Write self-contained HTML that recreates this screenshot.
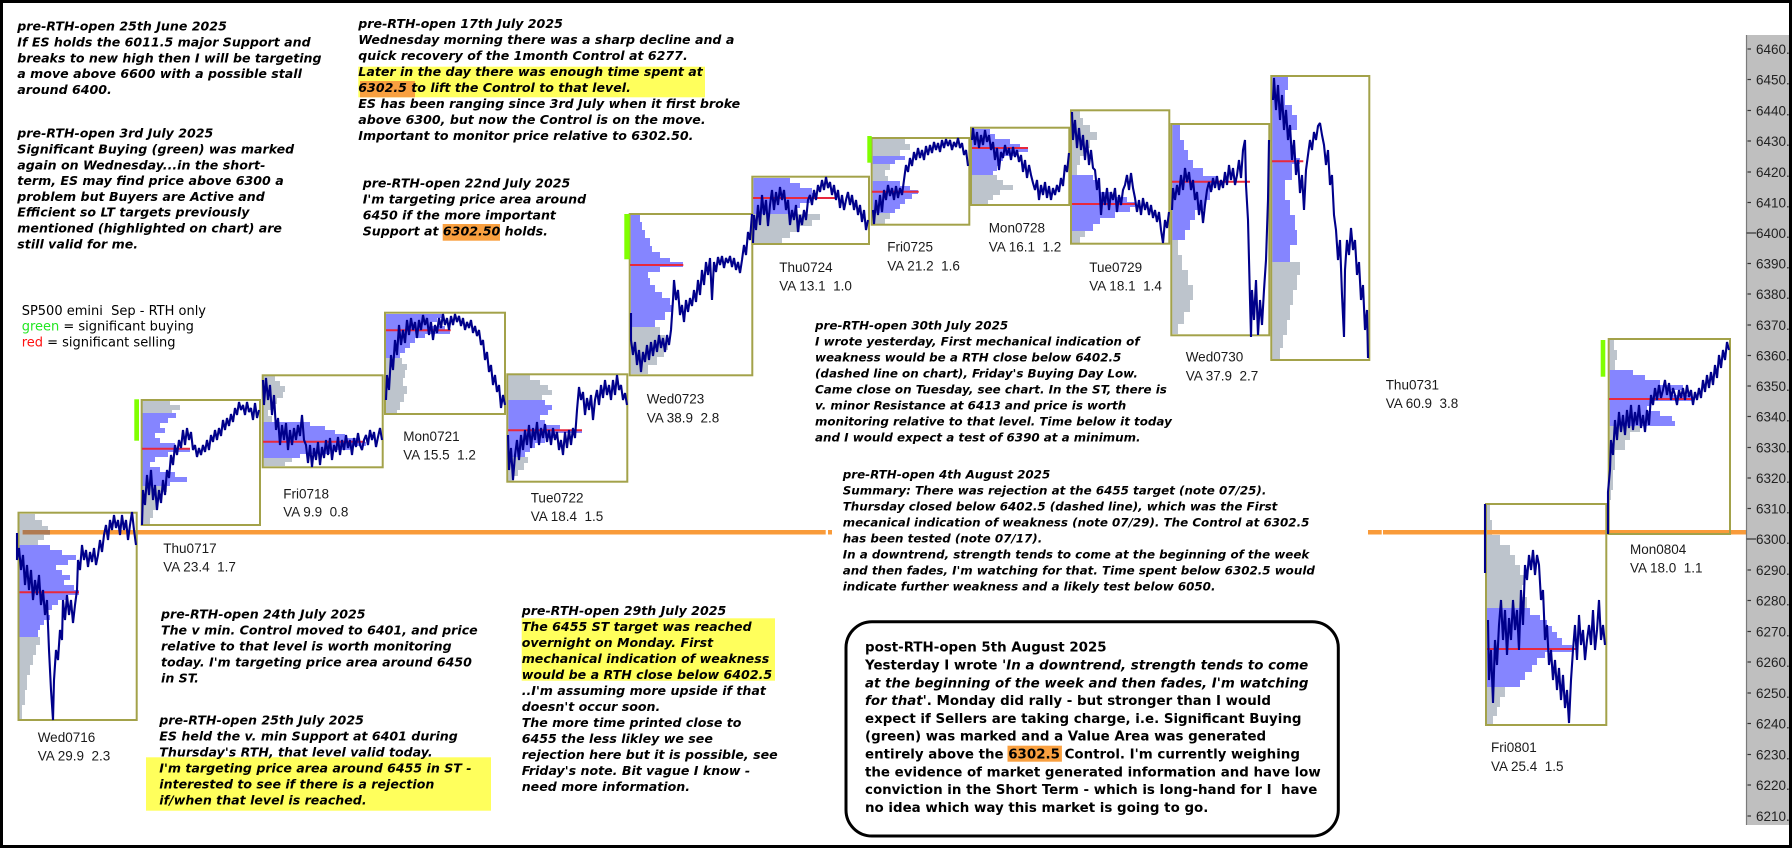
<!DOCTYPE html>
<html><head><meta charset="utf-8">
<style>
html,body{margin:0;padding:0;background:#fff;}
svg{display:block}
.t{font-family:"DejaVu Sans","Liberation Sans",sans-serif;font-weight:bold;font-style:italic;font-size:12.6px;fill:#000}
.s{font-size:11.9px}
.bx{font-family:"DejaVu Sans","Liberation Sans",sans-serif;font-weight:bold;font-size:13.4px;fill:#000}
.lg{font-family:"DejaVu Sans","Liberation Sans",sans-serif;font-size:13px;fill:#000}
.lb{font-family:"Liberation Sans",Arial,sans-serif;font-size:13.5px;fill:#1a1a1a}
.ax{font-family:"Liberation Sans",Arial,sans-serif;font-size:13.5px;fill:#222}
.g{fill:#bdc4cc}
.b{fill:#8585ff}
.box{fill:none;stroke:#a3a24a;stroke-width:2}
.poc{stroke:#e8283c;stroke-width:2}
.pr{fill:none;stroke:#00008b;stroke-width:2.1;stroke-linejoin:bevel}
.gr{fill:#80ff00}
</style></head><body>
<svg width="1792" height="848" viewBox="0 0 1792 848" xmlns="http://www.w3.org/2000/svg">
<rect x="0" y="0" width="1792" height="848" fill="#fff"/>

<!-- highlights -->
<rect x="358.3" y="66.7" width="346.7" height="30.6" fill="#ffff5c"/>
<rect x="360" y="81" width="55" height="16.3" fill="#f9a040"/>
<rect x="442.7" y="224" width="57.3" height="16.7" fill="#f9a040"/>
<rect x="146" y="757.3" width="345" height="53.4" fill="#ffff5c"/>
<rect x="521.7" y="618.3" width="253.3" height="62.4" fill="#ffff5c"/>

<!-- profiles -->
<path class="g" d="M19.5 514H35V520H42V526H48V530H50V535H44V540H38V545H19.5Z M19.5 637H40V645H36V655H33V665H30V675H27V690H25V705H22V719H19.5Z"/>
<path class="b" d="M19.5 545H50V550H62V555H76V560H68V565H56V570H62V575H70V580H64V585H74V590H79V595H66V600H58V605H52V610H48V615H50V620H44V625H40V630H38V637H19.5Z"/>

<path class="g" d="M142 401H170V405H180V410H172V413H142Z M142 486H167V492H160V500H157V510H153V518H150V524H142Z"/>
<path class="b" d="M142 413H176V418H168V423H160V428H165V433H155V438H160V443H175V448H190V452H168V457H155V462H150V467H160V472H175V477H187V482H170V486H142Z"/>

<path class="g" d="M263.5 376H275V381H280V386H285V392H283V398H277V404H272V410H268V416H272V422H263.5Z M263.5 458H292V462H285V466H263.5Z"/>
<path class="b" d="M263.5 422H310V426H325V430H335V434H345V438H360V442H366V446H350V450H330V454H300V458H263.5Z"/>

<path class="b" d="M386 314H442V318H437V322H430V326H445V330H450V334H425V338H415V343H410V348H405V353H400V358H386Z"/>
<path class="g" d="M386 358H402V364H407V370H405V378H403V386H407V394H404V402H400V410H397V413H386Z"/>

<path class="g" d="M508.3 375H530V380H540V385H548V390H552V395H542V400H508.3Z M508.3 457H528V463H524V470H518V476H514V481H508.3Z"/>
<path class="b" d="M508.3 400H545V405H552V410H548V415H540V420H545V425H560V430H582V433H555V438H545V443H535V448H530V452H525V457H508.3Z"/>

<path class="b" d="M630.7 215H640V222H642V230H645V238H650V246H652V252H660V258H670V262H683V267H660V272H648V278H650V285H655V292H662V298H670V305H672V312H665V320H655V327H630.7Z"/>
<path class="g" d="M630.7 327H660V335H665V343H668V350H664V357H657V365H648V374H630.7Z"/>

<path class="b" d="M753.3 178H790V183H800V188H812V193H817V198H810V203H800V208H795V214H753.3Z"/>
<path class="g" d="M753.3 214H820V220H812V226H800V232H790V238H782V243H753.3Z"/>

<path class="g" d="M872.7 139H905V144H910V150H900V156H872.7Z M872.7 164H890V170H885V176H888V181H872.7Z M872.7 213H890V219H885V224H872.7Z"/>
<path class="b" d="M872.7 156H905V160H895V164H872.7Z M872.7 181H900V186H910V190H918V194H912V199H905V204H900V209H895V213H872.7Z"/>

<path class="b" d="M972 129H990V134H995V139H1010V144H1020V148H1028V152H1015V156H1003V161H1000V166H997V171H993V175H972Z"/>
<path class="g" d="M972 175H997V180H1003V185H1013V190H1000V195H993V200H988V204H972Z"/>

<path class="g" d="M1072 111H1080V118H1083V125H1090V132H1097V140H1090V148H1085V156H1080V165H1077V175H1072Z M1072 231H1085V237H1080V243H1072Z"/>
<path class="b" d="M1072 175H1093V180H1098V186H1100V192H1110V197H1127V202H1135V207H1130V212H1115V218H1100V224H1093V231H1072Z"/>

<path class="b" d="M1172.3 125H1180V140H1184V150H1188V160H1193V168H1203V176H1218V184H1213V190H1210V200H1205V210H1195V220H1190V230H1185V240H1172.3Z"/>
<path class="g" d="M1172.3 240H1178V255H1182V270H1188V285H1193V300H1190V312H1184V324H1178V334H1172.3Z"/>

<path class="b" d="M1272.3 77H1288V90H1285V105H1292V115H1297V130H1290V145H1295V158H1300V164H1292V180H1285V200H1290V215H1295V230H1297V245H1290V262H1272.3Z"/>
<path class="g" d="M1272.3 262H1300V275H1297V290H1293V305H1290V320H1287V335H1283V348H1280V359H1272.3Z"/>

<path class="g" d="M1487 505H1490V520H1492V535H1500V545H1510V555H1515V565H1520V575H1525V585H1522V597H1527V608H1487Z M1487 687H1505V697H1500V707H1497V716H1493V724H1487Z"/>
<path class="b" d="M1487 608H1530V615H1540V620H1547V626H1552V632H1557V638H1562V645H1572V652H1545V658H1537V665H1532V672H1525V680H1520V687H1487Z"/>

<path class="g" d="M1609.7 340H1614V350H1617V360H1615V370H1609.7Z M1609.7 426H1640V432H1630V440H1625V450H1615V470H1613V490H1611V500H1609.7Z"/>
<path class="b" d="M1609.7 370H1633V375H1645V380H1660V385H1683V390H1670V395H1692V401H1650V406H1647V411H1660V416H1672V421H1675V426H1609.7Z"/>

<!-- orange control line -->
<rect x="22.7" y="530" width="803" height="4.5" fill="#f99b3a"/>
<rect x="22.7" y="530" width="27.3" height="4.5" fill="#b07a52"/>
<rect x="828" y="530" width="4" height="4.5" fill="#f99b3a"/>
<rect x="1368" y="530" width="13.7" height="4.5" fill="#f99b3a"/>
<rect x="1383" y="530" width="364" height="4.5" fill="#f99b3a"/>

<!-- boxes -->
<rect class="box" x="18.5" y="512.7" width="118.2" height="207.3"/>
<rect class="box" x="141.7" y="400" width="118.3" height="125"/>
<rect class="box" x="262.7" y="375.3" width="120" height="92"/>
<rect class="box" x="385" y="312.7" width="120" height="101.3"/>
<rect class="box" x="507.3" y="374.3" width="120" height="107.4"/>
<rect class="box" x="629.7" y="214" width="122.6" height="161.3"/>
<rect class="box" x="752.3" y="176.7" width="116.7" height="67.3"/>
<rect class="box" x="871.7" y="138" width="97.6" height="86.7"/>
<rect class="box" x="971" y="127.7" width="98.3" height="77.3"/>
<rect class="box" x="1071" y="110.3" width="98.3" height="133.4"/>
<rect class="box" x="1171.3" y="124" width="98" height="211.3"/>
<rect class="box" x="1271.3" y="76" width="98" height="284"/>
<rect class="box" x="1486" y="504" width="120.3" height="221"/>
<rect class="box" x="1608.7" y="339" width="121.3" height="195"/>

<!-- POC lines -->
<line class="poc" x1="19.5" y1="592.3" x2="79" y2="592.3"/>
<line class="poc" x1="142" y1="448.7" x2="190" y2="448.7"/>
<line class="poc" x1="263" y1="441.7" x2="365" y2="441.7"/>
<line class="poc" x1="386" y1="330.3" x2="450.7" y2="330.3"/>
<line class="poc" x1="508" y1="430.3" x2="582" y2="430.3"/>
<line class="poc" x1="630" y1="265" x2="683.3" y2="265"/>
<line class="poc" x1="753" y1="198" x2="835.7" y2="198"/>
<line class="poc" x1="872" y1="191.7" x2="918.7" y2="191.7"/>
<line class="poc" x1="972" y1="148" x2="1028" y2="148"/>
<line class="poc" x1="1072" y1="204" x2="1135.3" y2="204"/>
<line class="poc" x1="1172" y1="181.7" x2="1250" y2="181.7"/>
<line class="poc" x1="1272" y1="161.3" x2="1303.3" y2="161.3"/>
<line class="poc" x1="1487" y1="649" x2="1576" y2="649"/>
<line class="poc" x1="1609" y1="399" x2="1695" y2="399"/>

<!-- price lines -->
<polyline class="pr" points="17,533 17,560 19,548 21,570 23,555 25,585 27,565 29,590 31,570 33,600 35,580 37,595 39,575 41,605 43,590 45,615 47,600 49,650 51,690 53,720 54,680 56,650 58,660 60,630 62,640 63,600 65,620 67,595 69,615 71,600 73,623 75,605 77,590 78,560 80,570 82,545 84,560 86,550 88,567 90,552 92,562 94,548 96,565 98,555 100,540 102,552 104,535 106,525 108,540 110,520 112,530 114,515 116,528 118,520 120,535 122,515 124,530 126,520 128,540 130,525 132,512 134,530 136,545"/>
<polyline class="pr" points="142,525 143,490 145,505 147,475 149,495 151,470 153,500 155,485 157,510 159,490 161,503 163,480 165,495 167,470 169,478 171,455 173,465 175,445 177,455 179,440 181,448 183,430 185,445 187,428 189,440 191,432 193,450 195,445 197,457 199,448 201,455 203,445 205,452 207,440 209,450 211,435 213,442 215,430 217,440 219,428 221,436 223,420 225,430 227,418 229,426 231,414 233,422 235,408 237,415 239,402 241,410 243,405 245,415 247,402 249,412 251,408 253,420 255,403 257,418 259,410"/>
<polyline class="pr" points="263,380 264,405 266,378 268,400 270,385 272,415 274,395 276,430 278,418 280,445 282,425 284,440 286,423 288,450 290,430 292,445 294,428 296,440 298,425 300,436 302,415 304,440 306,445 308,463 310,445 312,467 314,448 316,460 318,442 320,465 322,447 324,458 326,440 328,455 330,438 332,460 334,445 336,452 338,437 340,455 342,440 344,450 346,435 348,448 350,440 352,455 354,438 356,447 358,433 360,445 362,450 364,440 366,435 368,445 370,430 372,440 374,432 376,447 378,437 380,428 382,440"/>
<polyline class="pr" points="386,400 387,375 389,390 391,355 393,370 395,340 397,355 399,325 401,345 403,330 405,343 407,320 409,335 411,318 413,330 415,322 417,338 419,320 421,330 423,315 425,325 427,318 429,335 431,322 433,340 435,325 437,333 439,318 441,328 443,314 445,325 447,318 449,330 451,316 453,325 455,314 457,322 459,316 461,326 463,318 465,330 467,322 469,328 471,320 473,333 475,326 477,336 479,330 481,345 483,340 485,360 487,352 489,372 491,365 493,385 495,375 497,392 499,385 501,408 503,395 505,405"/>
<polyline class="pr" points="508,435 509,470 511,448 513,480 515,455 517,440 519,460 521,435 523,450 525,430 527,445 529,425 531,448 533,428 535,440 537,422 539,445 541,428 543,438 545,424 547,442 549,430 551,445 553,428 555,440 557,432 559,450 561,440 563,455 565,432 567,448 569,430 571,445 573,428 575,438 577,410 579,387 581,400 583,392 585,415 587,398 589,410 591,395 593,420 595,400 597,390 599,405 601,385 603,398 605,380 607,395 609,385 611,400 613,380 615,395 617,375 619,390 621,385 623,400 625,393 627,405"/>
<polyline class="pr" points="631,313 631,340 633,355 635,342 637,365 639,350 641,372 643,352 645,362 647,345 649,360 651,342 653,356 655,340 657,352 659,335 661,348 663,338 665,352 667,335 669,345 671,330 673,300 674,280 676,300 678,290 680,315 682,305 684,322 686,300 688,312 690,298 692,306 694,290 696,302 698,280 700,295 702,270 704,285 706,262 708,275 710,258 712,300 714,262 716,272 718,257 720,265 722,256 724,268 726,258 728,263 730,256 732,267 734,258 736,270 738,262 740,273 742,260 744,245 746,255 748,232 750,240 752,214"/>
<polyline class="pr" points="753,243 754,215 756,230 758,205 760,225 762,195 764,215 766,200 768,226 770,205 772,190 774,210 776,192 778,205 780,187 782,200 784,190 786,210 788,200 790,225 792,210 794,220 796,205 798,232 800,215 802,225 804,210 806,220 808,200 810,195 812,205 814,190 816,200 818,185 820,192 822,180 824,190 826,177 828,188 830,182 832,195 834,185 836,200 838,190 840,208 842,195 844,210 846,200 848,192 850,205 852,195 854,210 856,200 858,215 860,205 862,222 864,210 866,230 868,220"/>
<polyline class="pr" points="873,210 874,224 876,200 878,215 880,195 882,212 884,190 886,200 888,185 890,196 892,188 894,200 896,186 898,198 900,188 902,195 904,180 906,165 908,172 910,158 912,166 914,152 916,160 918,148 920,158 922,150 924,160 926,146 928,155 930,145 932,153 934,142 936,150 938,143 940,152 942,140 944,148 946,139 948,146 950,140 952,150 954,142 956,147 958,138 960,148 962,143 964,155 966,150 968,166"/>
<polyline class="pr" points="972,140 973,128 975,145 977,132 979,148 981,135 983,145 985,130 987,142 989,135 991,150 993,142 995,160 997,148 999,170 1001,152 1003,158 1005,145 1007,155 1009,148 1011,160 1013,147 1015,157 1017,150 1019,162 1021,155 1023,172 1025,160 1027,178 1029,165 1031,175 1033,183 1035,190 1037,180 1039,200 1041,185 1043,195 1045,182 1047,198 1049,186 1051,200 1053,188 1055,195 1057,185 1059,192 1061,178 1063,186 1065,165 1067,172 1069,153"/>
<polyline class="pr" points="1072,112 1073,140 1075,120 1077,148 1079,128 1081,150 1083,135 1085,160 1087,140 1089,165 1091,150 1093,168 1095,170 1097,190 1099,178 1101,215 1103,192 1105,205 1107,188 1109,210 1111,192 1113,200 1115,188 1117,212 1119,195 1121,205 1123,190 1125,185 1127,175 1129,190 1131,173 1133,188 1135,198 1137,212 1139,200 1141,215 1143,198 1145,210 1147,202 1149,215 1151,205 1153,218 1155,210 1157,222 1159,212 1161,230 1163,243 1165,220 1167,228 1169,212"/>
<polyline class="pr" points="1172,210 1173,188 1175,200 1177,185 1179,195 1181,175 1183,190 1185,168 1187,182 1189,172 1191,190 1193,180 1195,200 1197,192 1199,215 1201,200 1203,223 1205,205 1207,190 1209,182 1211,192 1213,178 1215,188 1217,176 1219,190 1221,180 1223,188 1225,172 1227,185 1229,165 1231,180 1233,168 1235,185 1237,175 1239,160 1241,178 1243,150 1245,140 1246,185 1248,220 1249,260 1250,300 1251,337 1252,290 1254,320 1256,280 1258,335 1260,300 1262,325 1264,290 1266,260 1268,200 1269,140"/>
<polyline class="pr" points="1273,100 1274,78 1276,110 1278,85 1280,120 1282,95 1284,130 1286,110 1288,140 1290,125 1292,160 1294,140 1296,175 1298,160 1300,193 1302,175 1304,210 1306,170 1308,155 1310,140 1312,150 1314,132 1316,140 1318,126 1320,123 1322,135 1324,145 1326,165 1328,150 1330,185 1332,175 1334,215 1336,230 1338,260 1340,240 1342,295 1344,337 1345,270 1347,240 1349,255 1351,228 1353,250 1355,240 1357,275 1359,262 1361,300 1363,285 1365,330 1367,310 1368,358"/>
<polyline class="pr" points="1485,504 1485,573"/>
<polyline class="pr" points="1488,620 1489,680 1491,650 1493,703 1495,640 1497,665 1499,625 1501,600 1503,640 1505,610 1507,655 1509,618 1511,640 1513,600 1515,630 1517,610 1519,650 1521,590 1523,625 1525,565 1527,580 1529,555 1531,570 1533,550 1535,575 1537,555 1539,565 1541,600 1543,590 1545,640 1547,625 1549,665 1551,650 1553,680 1555,660 1557,690 1559,668 1561,700 1563,675 1565,708 1567,690 1569,723 1571,680 1573,650 1575,625 1577,660 1579,615 1581,645 1583,630 1585,660 1587,640 1589,625 1591,645 1593,610 1595,650 1597,630 1599,600 1601,640 1603,625 1605,645"/>
<polyline class="pr" points="1608,534 1608,492 1610,470 1611,440 1613,455 1615,420 1617,440 1619,412 1621,432 1623,415 1625,435 1627,410 1629,428 1631,405 1633,430 1635,412 1637,425 1639,405 1641,428 1643,415 1645,432 1647,410 1649,425 1651,395 1653,405 1655,388 1657,400 1659,385 1661,398 1663,390 1665,380 1667,395 1669,383 1671,400 1673,388 1675,395 1677,405 1679,390 1681,398 1683,388 1685,400 1687,385 1689,397 1691,390 1693,405 1695,392 1697,400 1699,388 1701,398 1703,380 1705,392 1707,375 1709,388 1711,372 1713,385 1715,365 1717,378 1719,355 1721,368 1723,350 1725,360 1727,342 1729,350"/>

<!-- green bars -->
<rect class="gr" x="134.3" y="399.3" width="4.7" height="41.4"/>
<rect class="gr" x="624.3" y="214" width="5.4" height="45.3"/>
<rect class="gr" x="867.3" y="136" width="4.4" height="26.7"/>
<rect class="gr" x="1600.7" y="340" width="4.6" height="36.7"/>

<!-- day labels -->
<text class="lb" x="37.7" y="742">Wed0716</text><text class="lb" x="37.7" y="760.5">VA 29.9&#160; 2.3</text>
<text class="lb" x="163.3" y="553">Thu0717</text><text class="lb" x="163.3" y="571.7">VA 23.4&#160; 1.7</text>
<text class="lb" x="283.3" y="498.3">Fri0718</text><text class="lb" x="283.3" y="516.7">VA 9.9&#160; 0.8</text>
<text class="lb" x="403.3" y="441">Mon0721</text><text class="lb" x="403.3" y="459.3">VA 15.5&#160; 1.2</text>
<text class="lb" x="530.7" y="502.3">Tue0722</text><text class="lb" x="530.7" y="521">VA 18.4&#160; 1.5</text>
<text class="lb" x="646.7" y="403.3">Wed0723</text><text class="lb" x="646.7" y="422.3">VA 38.9&#160; 2.8</text>
<text class="lb" x="779.3" y="272">Thu0724</text><text class="lb" x="779.3" y="290.7">VA 13.1&#160; 1.0</text>
<text class="lb" x="887.3" y="251.7">Fri0725</text><text class="lb" x="887.3" y="270.7">VA 21.2&#160; 1.6</text>
<text class="lb" x="988.7" y="232.7">Mon0728</text><text class="lb" x="988.7" y="251.7">VA 16.1&#160; 1.2</text>
<text class="lb" x="1089.3" y="272">Tue0729</text><text class="lb" x="1089.3" y="290.7">VA 18.1&#160; 1.4</text>
<text class="lb" x="1185.7" y="361.7">Wed0730</text><text class="lb" x="1185.7" y="380.7">VA 37.9&#160; 2.7</text>
<text class="lb" x="1385.7" y="389.3">Thu0731</text><text class="lb" x="1385.7" y="408">VA 60.9&#160; 3.8</text>
<text class="lb" x="1491" y="752">Fri0801</text><text class="lb" x="1491" y="771">VA 25.4&#160; 1.5</text>
<text class="lb" x="1630" y="554">Mon0804</text><text class="lb" x="1630" y="572.7">VA 18.0&#160; 1.1</text>

<!-- legend -->
<text class="lg" x="21.7" y="315">SP500 emini&#160; Sep - RTH only</text>
<text class="lg" x="21.7" y="330.7"><tspan fill="#22e622">green</tspan> = significant buying</text>
<text class="lg" x="21.7" y="346.7"><tspan fill="#ff1010">red</tspan> = significant selling</text>

<!-- block 1 -->
<text class="t" x="17.3" y="30.7">pre-RTH-open 25th June 2025</text>
<text class="t" x="17.3" y="46.5">If ES holds the 6011.5 major Support and</text>
<text class="t" x="17.3" y="62.3">breaks to new high then I will be targeting</text>
<text class="t" x="17.3" y="78.1">a move above 6600 with a possible stall</text>
<text class="t" x="17.3" y="93.9">around 6400.</text>
<text class="t" x="17.3" y="137.7">pre-RTH-open 3rd July 2025</text>
<text class="t" x="17.3" y="153.5">Significant Buying (green) was marked</text>
<text class="t" x="17.3" y="169.3">again on Wednesday...in the short-</text>
<text class="t" x="17.3" y="185.1">term, ES may find price above 6300 a</text>
<text class="t" x="17.3" y="200.9">problem but Buyers are Active and</text>
<text class="t" x="17.3" y="216.7">Efficient so LT targets previously</text>
<text class="t" x="17.3" y="232.5">mentioned (highlighted on chart) are</text>
<text class="t" x="17.3" y="248.3">still valid for me.</text>

<!-- block 17th July -->
<text class="t" x="358.3" y="28">pre-RTH-open 17th July 2025</text>
<text class="t" x="358.3" y="44">Wednesday morning there was a sharp decline and a</text>
<text class="t" x="358.3" y="60">quick recovery of the 1month Control at 6277.</text>
<text class="t" x="358.3" y="76">Later in the day there was enough time spent at</text>
<text class="t" x="358.3" y="92">6302.5 to lift the Control to that level.</text>
<text class="t" x="358.3" y="108">ES has been ranging since 3rd July when it first broke</text>
<text class="t" x="358.3" y="124">above 6300, but now the Control is on the move.</text>
<text class="t" x="358.3" y="140">Important to monitor price relative to 6302.50.</text>

<!-- block 22nd July -->
<text class="t" x="362.7" y="187.5">pre-RTH-open 22nd July 2025</text>
<text class="t" x="362.7" y="203.5">I'm targeting price area around</text>
<text class="t" x="362.7" y="219.5">6450 if the more important</text>
<text class="t" x="362.7" y="235.5">Support at 6302.50 holds.</text>

<!-- block 30th July -->
<text class="t s" x="815" y="329.3">pre-RTH-open 30th July 2025</text>
<text class="t s" x="815" y="345.3">I wrote yesterday, First mechanical indication of</text>
<text class="t s" x="815" y="361.3">weakness would be a RTH close below 6402.5</text>
<text class="t s" x="815" y="377.3">(dashed line on chart), Friday's Buying Day Low.</text>
<text class="t s" x="815" y="393.3">Came close on Tuesday, see chart. In the ST, there is</text>
<text class="t s" x="815" y="409.3">v. minor Resistance at 6413 and price is worth</text>
<text class="t s" x="815" y="425.3">monitoring relative to that level. Time below it today</text>
<text class="t s" x="815" y="441.3">and I would expect a test of 6390 at a minimum.</text>

<!-- block 4th August -->
<text class="t s" x="842.7" y="478.3">pre-RTH-open 4th August 2025</text>
<text class="t s" x="842.7" y="494.3">Summary: There was rejection at the 6455 target (note 07/25).</text>
<text class="t s" x="842.7" y="510.3">Thursday closed below 6402.5 (dashed line), which was the First</text>
<text class="t s" x="842.7" y="526.3">mecanical indication of weakness (note 07/29). The Control at 6302.5</text>
<text class="t s" x="842.7" y="542.3">has been tested (note 07/17).</text>
<text class="t s" x="842.7" y="558.3">In a downtrend, strength tends to come at the beginning of the week</text>
<text class="t s" x="842.7" y="574.3">and then fades, I'm watching for that. Time spent below 6302.5 would</text>
<text class="t s" x="842.7" y="590.3">indicate further weakness and a likely test below 6050.</text>

<!-- block 24th July -->
<text class="t" x="161" y="618.3">pre-RTH-open 24th July 2025</text>
<text class="t" x="161" y="634.3">The v min. Control moved to 6401, and price</text>
<text class="t" x="161" y="650.3">relative to that level is worth monitoring</text>
<text class="t" x="161" y="666.3">today. I'm targeting price area around 6450</text>
<text class="t" x="161" y="682.3">in ST.</text>

<!-- block 25th July -->
<text class="t" x="159.3" y="724.3">pre-RTH-open 25th July 2025</text>
<text class="t" x="159.3" y="740.3">ES held the v. min Support at 6401 during</text>
<text class="t" x="159.3" y="756.3">Thursday's RTH, that level valid today.</text>
<text class="t" x="159.3" y="772.3">I'm targeting price area around 6455 in ST -</text>
<text class="t" x="159.3" y="788.3">interested to see if there is a rejection</text>
<text class="t" x="159.3" y="804.3">if/when that level is reached.</text>

<!-- block 29th July -->
<text class="t" x="521.7" y="615">pre-RTH-open 29th July 2025</text>
<text class="t" x="521.7" y="631">The 6455 ST target was reached</text>
<text class="t" x="521.7" y="647">overnight on Monday. First</text>
<text class="t" x="521.7" y="663">mechanical indication of weakness</text>
<text class="t" x="521.7" y="679">would be a RTH close below 6402.5</text>
<text class="t" x="521.7" y="695">..I'm assuming more upside if that</text>
<text class="t" x="521.7" y="711">doesn't occur soon.</text>
<text class="t" x="521.7" y="727">The more time printed close to</text>
<text class="t" x="521.7" y="743">6455 the less likley we see</text>
<text class="t" x="521.7" y="759">rejection here but it is possible, see</text>
<text class="t" x="521.7" y="775">Friday's note. Bit vague I know -</text>
<text class="t" x="521.7" y="791">need more information.</text>

<!-- rounded box -->
<rect x="846" y="621.7" width="492.3" height="214.3" rx="26" ry="26" fill="#fff" stroke="#000" stroke-width="3"/>
<rect x="1007.5" y="745.7" width="54.4" height="16" fill="#f9a040"/>
<text class="bx" x="865" y="651.7">post-RTH-open 5th August 2025</text>
<text class="bx" x="865" y="669.5">Yesterday I wrote '<tspan font-style="italic">In a downtrend, strength tends to come</tspan></text>
<text class="bx" x="865" y="687.3" font-style="italic">at the beginning of the week and then fades, I'm watching</text>
<text class="bx" x="865" y="705.1"><tspan font-style="italic">for that</tspan>'. Monday did rally - but stronger than I would</text>
<text class="bx" x="865" y="722.9">expect if Sellers are taking charge, i.e. Significant Buying</text>
<text class="bx" x="865" y="740.7">(green) was marked and a Value Area was generated</text>
<text class="bx" x="865" y="758.5">entirely above the 6302.5 Control. I'm currently weighing</text>
<text class="bx" x="865" y="776.3">the evidence of market generated information and have low</text>
<text class="bx" x="865" y="794.1">conviction in the Short Term - which is long-hand for I&#160; have</text>
<text class="bx" x="865" y="811.9">no idea which way this market is going to go.</text>

<!-- price axis -->
<rect x="1746" y="35" width="44" height="790" fill="#bfbfbf"/>
<line x1="1746.5" y1="35" x2="1746.5" y2="825" stroke="#7a7a7a" stroke-width="1.2"/>
<g stroke="#333" stroke-width="1.2">
<line x1="1747.5" y1="49" x2="1751" y2="49"/>
<line x1="1747.5" y1="79.5" x2="1751" y2="79.5"/>
<line x1="1747.5" y1="110.5" x2="1751" y2="110.5"/>
<line x1="1747.5" y1="141" x2="1751" y2="141"/>
<line x1="1747.5" y1="172" x2="1751" y2="172"/>
<line x1="1747.5" y1="202.5" x2="1751" y2="202.5"/>
<line x1="1746.5" y1="233" x2="1756" y2="233"/>
<line x1="1747.5" y1="263.5" x2="1751" y2="263.5"/>
<line x1="1747.5" y1="294" x2="1751" y2="294"/>
<line x1="1747.5" y1="325" x2="1751" y2="325"/>
<line x1="1747.5" y1="355.5" x2="1751" y2="355.5"/>
<line x1="1747.5" y1="386" x2="1751" y2="386"/>
<line x1="1747.5" y1="416.5" x2="1751" y2="416.5"/>
<line x1="1747.5" y1="447.5" x2="1751" y2="447.5"/>
<line x1="1747.5" y1="478" x2="1751" y2="478"/>
<line x1="1747.5" y1="508.5" x2="1751" y2="508.5"/>
<line x1="1746.5" y1="539" x2="1756" y2="539"/>
<line x1="1747.5" y1="570" x2="1751" y2="570"/>
<line x1="1747.5" y1="600.5" x2="1751" y2="600.5"/>
<line x1="1747.5" y1="631.5" x2="1751" y2="631.5"/>
<line x1="1747.5" y1="662" x2="1751" y2="662"/>
<line x1="1747.5" y1="693" x2="1751" y2="693"/>
<line x1="1747.5" y1="723.5" x2="1751" y2="723.5"/>
<line x1="1747.5" y1="754.5" x2="1751" y2="754.5"/>
<line x1="1747.5" y1="785" x2="1751" y2="785"/>
<line x1="1747.5" y1="816" x2="1751" y2="816"/>
</g>
<g class="ax">
<text x="1756" y="54">6460.00</text>
<text x="1756" y="84.5">6450.00</text>
<text x="1756" y="115.5">6440.00</text>
<text x="1756" y="146">6430.00</text>
<text x="1756" y="177">6420.00</text>
<text x="1756" y="207.5">6410.00</text>
<text x="1756" y="238">6400.00</text>
<text x="1756" y="268.5">6390.00</text>
<text x="1756" y="299">6380.00</text>
<text x="1756" y="330">6370.00</text>
<text x="1756" y="360.5">6360.00</text>
<text x="1756" y="391">6350.00</text>
<text x="1756" y="421.5">6340.00</text>
<text x="1756" y="452.5">6330.00</text>
<text x="1756" y="483">6320.00</text>
<text x="1756" y="513.5">6310.00</text>
<text x="1756" y="544">6300.00</text>
<text x="1756" y="575">6290.00</text>
<text x="1756" y="605.5">6280.00</text>
<text x="1756" y="636.5">6270.00</text>
<text x="1756" y="667">6260.00</text>
<text x="1756" y="698">6250.00</text>
<text x="1756" y="728.5">6240.00</text>
<text x="1756" y="759.5">6230.00</text>
<text x="1756" y="790">6220.00</text>
<text x="1756" y="821">6210.00</text>
</g>

<!-- outer black frame -->
<rect x="0" y="0" width="1792" height="3" fill="#000"/>
<rect x="0" y="845" width="1792" height="3" fill="#000"/>
<rect x="0" y="0" width="3" height="848" fill="#000"/>
<rect x="1789" y="0" width="3" height="848" fill="#000"/>
</svg>
</body></html>
